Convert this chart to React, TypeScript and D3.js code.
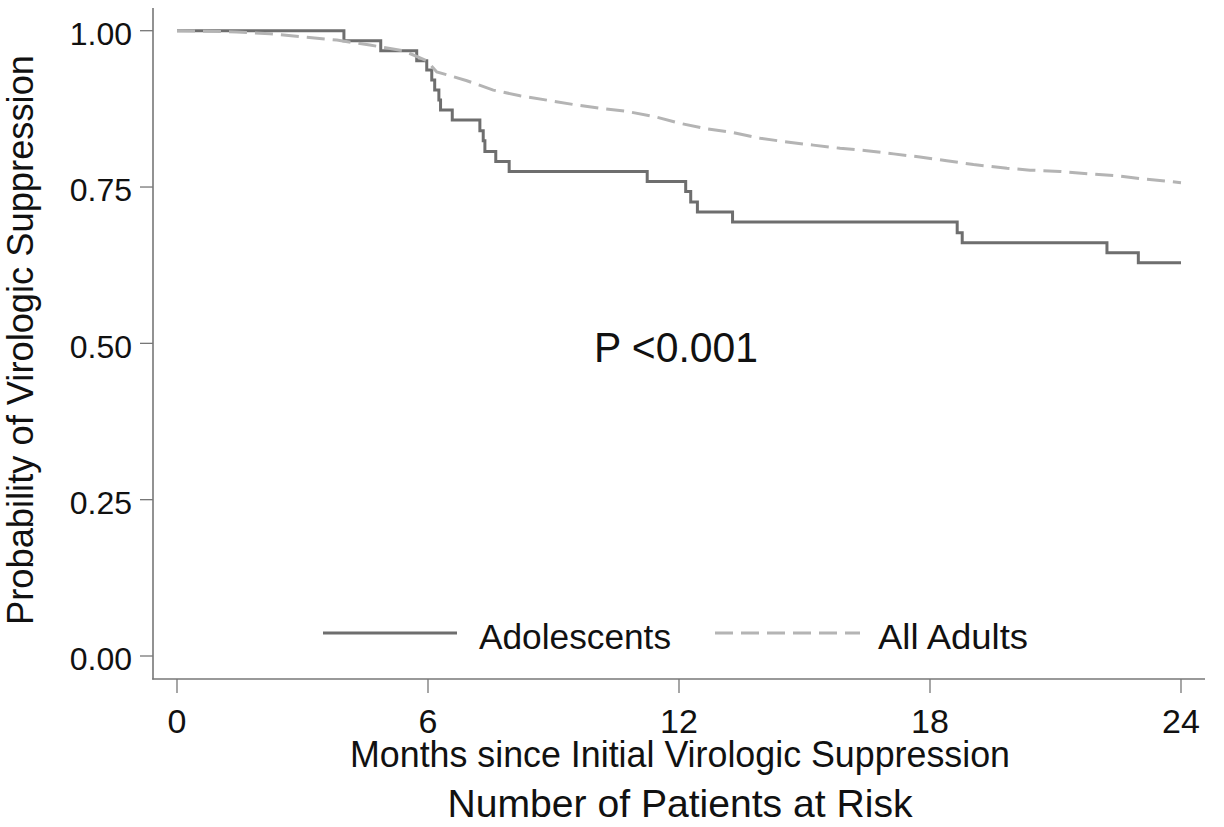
import React, { useEffect, useRef } from 'react';
import * as d3 from 'd3';

// Kaplan-Meier estimates
const adolescentMonths = [0, 3.99, 4.87, 5.73, 5.97, 6.09, 6.16, 6.26, 6.30, 6.58, 7.24, 7.32, 7.36, 7.62, 7.94, 11.24, 12.16, 12.28, 12.44, 13.28, 18.65, 18.77, 22.23, 22.98, 24];
const adolescentProb = [1.0, 0.984, 0.968, 0.952, 0.937, 0.921, 0.905, 0.889, 0.873, 0.857, 0.840, 0.824, 0.807, 0.791, 0.775, 0.759, 0.743, 0.726, 0.710, 0.694, 0.677, 0.661, 0.645, 0.629, 0.629];

const adultMonths = [0, 1.43, 2.22, 3.02, 3.82, 4.61, 5.41, 5.97, 6.21, 6.53, 6.93, 7.56, 8.20, 8.84, 9.47, 10.11, 10.75, 11.39, 12.02, 12.66, 13.30, 13.94, 14.58, 15.21, 15.85, 16.49, 17.13, 17.76, 18.40, 19.04, 19.84, 20.39, 21.11, 21.83, 22.46, 23.10, 24];
const adultProb = [1.0, 0.998, 0.995, 0.990, 0.985, 0.977, 0.968, 0.952, 0.934, 0.928, 0.920, 0.905, 0.896, 0.889, 0.882, 0.876, 0.871, 0.863, 0.852, 0.843, 0.837, 0.828, 0.822, 0.817, 0.812, 0.808, 0.803, 0.798, 0.792, 0.786, 0.780, 0.777, 0.775, 0.771, 0.768, 0.763, 0.757];

const xTicks = [0, 6, 12, 18, 24];
const yTicks = [0, 0.25, 0.5, 0.75, 1.0];

const FONT = "'Liberation Sans', Arial, Helvetica, sans-serif";
const W = 1224, H = 827;

export default function App() {
    const ref = useRef<SVGSVGElement>(null);

    useEffect(() => {
        const svg = d3.select(ref.current);
        svg.selectAll('*').remove();

        const x = d3.scaleLinear().domain([0, 24]).range([177, 1181]);
        const y = d3.scaleLinear().domain([0, 1]).range([656, 30.7]);
        const axisColor = '#777777';

        // axis lines
        svg.append('line')
            .attr('x1', 153).attr('x2', 153).attr('y1', 8).attr('y2', 679.5)
            .attr('stroke', axisColor).attr('stroke-width', 1.6);
        svg.append('line')
            .attr('x1', 152.2).attr('x2', 1205).attr('y1', 679).attr('y2', 679)
            .attr('stroke', axisColor).attr('stroke-width', 1.6);

        // y ticks
        const yg = svg.append('g');
        yg.selectAll('line').data(yTicks).enter().append('line')
            .attr('x1', 140).attr('x2', 153)
            .attr('y1', d => y(d)).attr('y2', d => y(d))
            .attr('stroke', axisColor).attr('stroke-width', 1.3);
        yg.selectAll('text').data(yTicks).enter().append('text')
            .attr('x', 132).attr('y', d => y(d) + 14.3)
            .attr('text-anchor', 'end')
            .attr('font-family', FONT).attr('font-size', 32)
            .attr('fill', '#111')
            .text(d => d3.format('.2f')(d));

        // x ticks
        const xg = svg.append('g');
        xg.selectAll('line').data(xTicks).enter().append('line')
            .attr('x1', d => x(d)).attr('x2', d => x(d))
            .attr('y1', 679).attr('y2', 693)
            .attr('stroke', axisColor).attr('stroke-width', 1.3);
        xg.selectAll('text').data(xTicks).enter().append('text')
            .attr('x', d => x(d)).attr('y', 733)
            .attr('text-anchor', 'middle')
            .attr('font-family', FONT).attr('font-size', 34)
            .attr('fill', '#111')
            .text(d => String(d));

        // curves
        const stepLine = d3.line<number>()
            .x((d, i) => x(adolescentMonths[i]))
            .y(d => y(d))
            .curve(d3.curveStepAfter);
        svg.append('path')
            .datum(adolescentProb)
            .attr('d', stepLine)
            .attr('fill', 'none')
            .attr('stroke', '#6e6e6e')
            .attr('stroke-width', 3);

        const adultLine = d3.line<number>()
            .x((d, i) => x(adultMonths[i]))
            .y(d => y(d));
        svg.append('path')
            .datum(adultProb)
            .attr('d', adultLine)
            .attr('fill', 'none')
            .attr('stroke', '#b4b4b4')
            .attr('stroke-width', 3)
            .attr('stroke-dasharray', '18,8');

        // p value
        svg.append('text')
            .attr('x', 594).attr('y', 361.5)
            .attr('font-family', FONT).attr('font-size', 42)
            .attr('fill', '#111')
            .attr('textLength', 164).attr('lengthAdjust', 'spacingAndGlyphs')
            .text('P <0.001');

        // legend
        svg.append('line')
            .attr('x1', 323).attr('x2', 457).attr('y1', 633).attr('y2', 633)
            .attr('stroke', '#6e6e6e').attr('stroke-width', 3);
        svg.append('text')
            .attr('x', 479).attr('y', 649)
            .attr('font-family', FONT).attr('font-size', 35)
            .attr('fill', '#111')
            .attr('textLength', 192).attr('lengthAdjust', 'spacingAndGlyphs')
            .text('Adolescents');
        svg.append('line')
            .attr('x1', 715).attr('x2', 860).attr('y1', 633).attr('y2', 633)
            .attr('stroke', '#b4b4b4').attr('stroke-width', 3)
            .attr('stroke-dasharray', '18,8');
        svg.append('text')
            .attr('x', 878).attr('y', 649)
            .attr('font-family', FONT).attr('font-size', 35)
            .attr('fill', '#111')
            .attr('textLength', 150).attr('lengthAdjust', 'spacingAndGlyphs')
            .text('All Adults');

        // axis titles
        svg.append('text')
            .attr('x', 680).attr('y', 767)
            .attr('text-anchor', 'middle')
            .attr('font-family', FONT).attr('font-size', 36)
            .attr('fill', '#111')
            .attr('textLength', 660).attr('lengthAdjust', 'spacingAndGlyphs')
            .text('Months since Initial Virologic Suppression');
        svg.append('text')
            .attr('x', 680).attr('y', 817)
            .attr('text-anchor', 'middle')
            .attr('font-family', FONT).attr('font-size', 39)
            .attr('fill', '#111')
            .attr('textLength', 465).attr('lengthAdjust', 'spacingAndGlyphs')
            .text('Number of Patients at Risk');
        svg.append('text')
            .attr('transform', 'translate(33,340) rotate(-90)')
            .attr('text-anchor', 'middle')
            .attr('font-family', FONT).attr('font-size', 36)
            .attr('fill', '#111')
            .attr('textLength', 570).attr('lengthAdjust', 'spacingAndGlyphs')
            .text('Probability of Virologic Suppression');
    }, []);

    return (
        <svg ref={ref} width={W} height={H}
            style={{ position: 'absolute', left: 0, top: 0, background: '#fff', display: 'block' }} />
    );
}
